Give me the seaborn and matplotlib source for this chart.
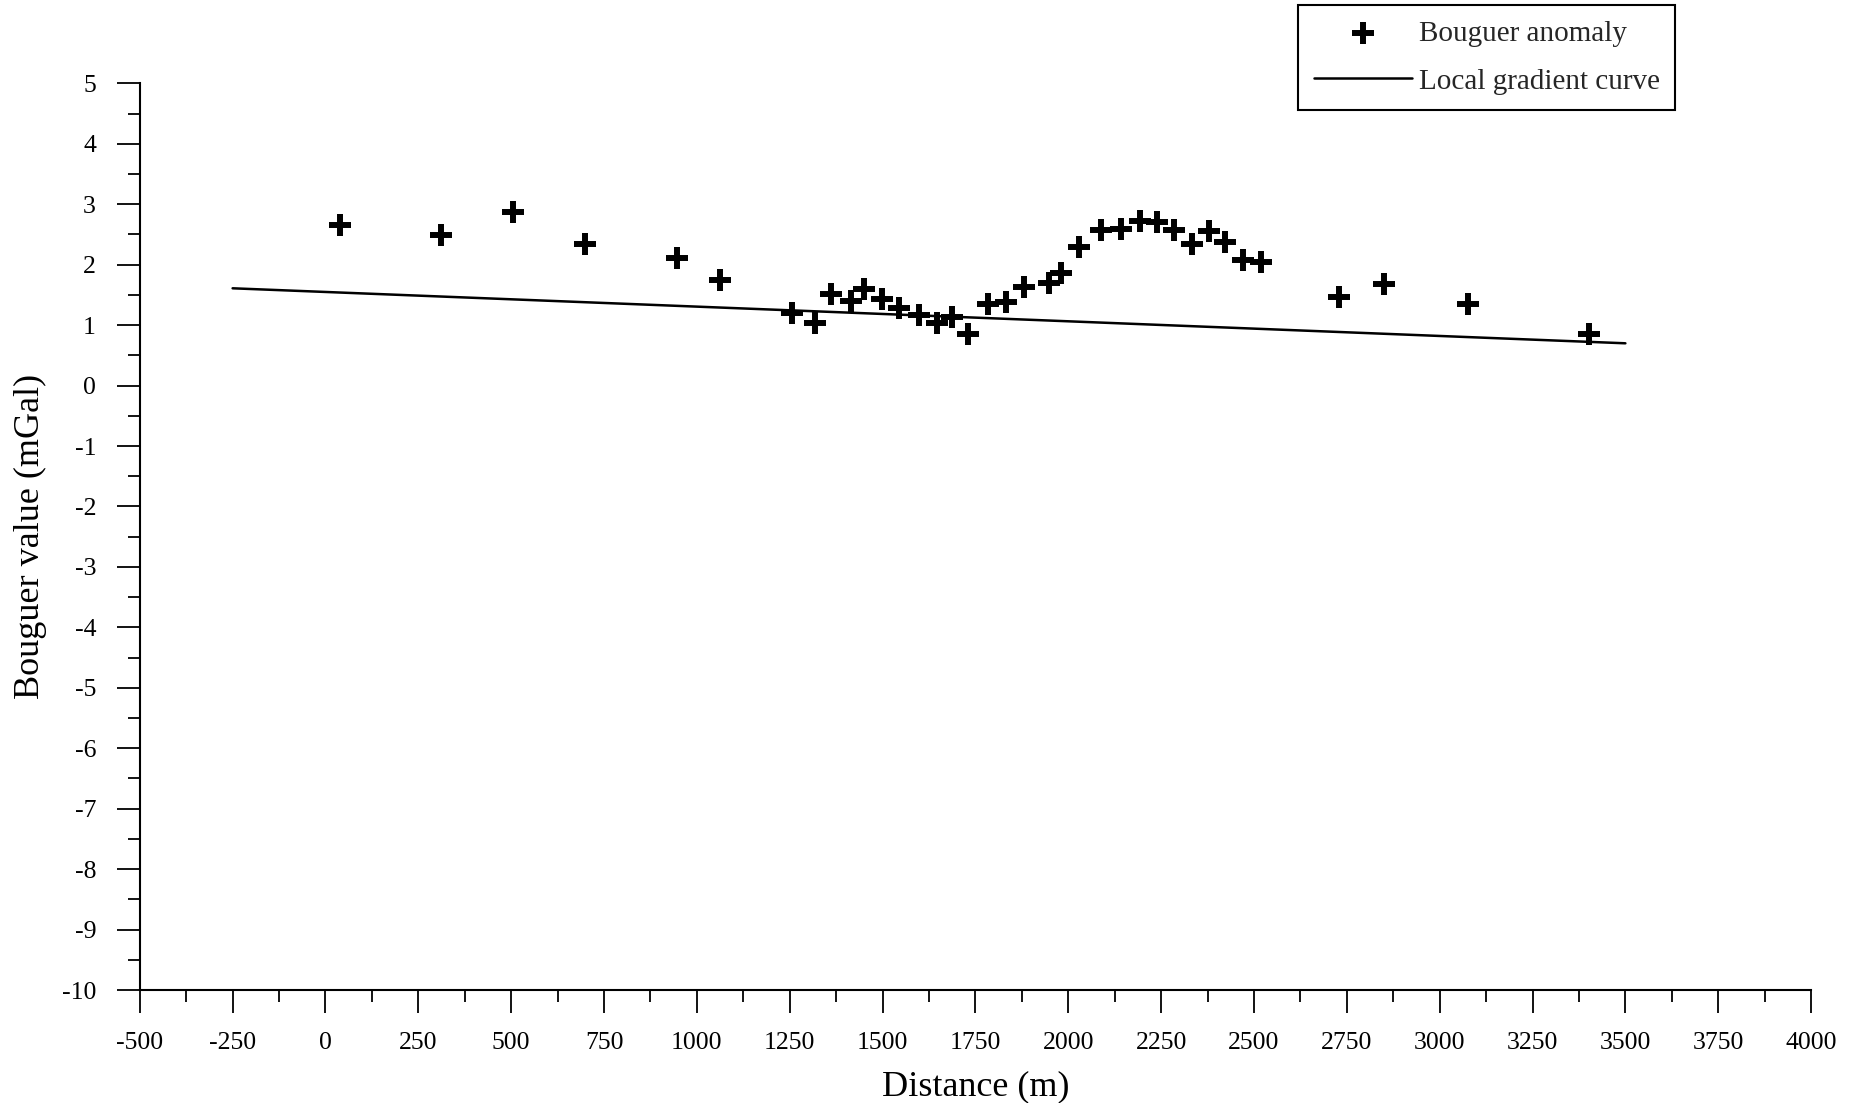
import matplotlib
matplotlib.use("Agg")
import matplotlib.pyplot as plt
from matplotlib.ticker import MultipleLocator
import seaborn as sns
import pandas as pd

# Bouguer anomaly observations
distance_m = [39, 312, 505, 698, 947, 1062, 1256, 1319, 1362, 1414, 1450, 1498,
              1543, 1598, 1646, 1687, 1729, 1785, 1831, 1880, 1948, 1981, 2029,
              2089, 2142, 2192, 2238, 2286, 2333, 2379, 2421, 2470, 2518, 2728,
              2851, 3076, 3403]
bouguer_mgal = [2.66, 2.49, 2.88, 2.34, 2.11, 1.75, 1.20, 1.03, 1.51, 1.40, 1.60,
                1.43, 1.29, 1.16, 1.04, 1.14, 0.85, 1.35, 1.38, 1.63, 1.69, 1.87,
                2.29, 2.57, 2.59, 2.73, 2.70, 2.57, 2.35, 2.56, 2.37, 2.07, 2.05,
                1.46, 1.68, 1.35, 0.86]

# Local gradient curve (regional trend)
trend_distance_m = [-250, 3500]
trend_mgal = [1.61, 0.70]

obs = pd.DataFrame({"Distance": distance_m, "Bouguer": bouguer_mgal})
trend = pd.DataFrame({"Distance": trend_distance_m, "Bouguer": trend_mgal})

sns.set_theme(style="ticks")
plt.rcParams["font.family"] = ["Liberation Serif", "DejaVu Serif"]
plt.rcParams["axes.unicode_minus"] = False

fig = plt.figure(figsize=(18.56, 11.03), dpi=100)
ax = fig.add_axes([0.0753, 0.1024, 0.9005, 0.8220])

sns.scatterplot(data=obs, x="Distance", y="Bouguer", ax=ax, marker="+",
                s=272, color="black", linewidth=4.3, label="Bouguer anomaly",
                zorder=3)
sns.lineplot(data=trend, x="Distance", y="Bouguer", ax=ax, color="black",
             linewidth=1.8, label="Local gradient curve", zorder=2)

ax.set_xlim(-500, 4000)
ax.set_ylim(-10, 5)
ax.xaxis.set_major_locator(MultipleLocator(250))
ax.xaxis.set_minor_locator(MultipleLocator(125))
ax.yaxis.set_major_locator(MultipleLocator(1))
ax.yaxis.set_minor_locator(MultipleLocator(0.5))

for side in ("top", "right"):
    ax.spines[side].set_visible(False)
for side in ("left", "bottom"):
    ax.spines[side].set_linewidth(1.5)
    ax.spines[side].set_color("black")

ax.tick_params(axis="both", which="major", direction="out", length=16.5,
               width=1.3, colors="black", labelsize=18.5)
ax.tick_params(axis="both", which="minor", direction="out", length=8.3,
               width=1.3, colors="black")
ax.tick_params(axis="x", which="major", pad=14)
ax.tick_params(axis="y", which="major", pad=15)

ax.set_xlabel("Distance (m)", fontsize=26, color="black")
ax.set_ylabel("Bouguer value (mGal)", fontsize=26, color="black")
ax.xaxis.set_label_coords(0.5, -0.089)
ax.yaxis.set_label_coords(-0.0555, 0.5)
ax.grid(False)

leg = ax.legend(loc="upper left", bbox_to_anchor=(0.6996, 0.9955),
                bbox_transform=fig.transFigure, borderaxespad=0,
                fontsize=21, frameon=True, fancybox=False, framealpha=1,
                edgecolor="black", borderpad=0.52, labelspacing=0.74,
                handlelength=3.37, handletextpad=0.25)
leg.get_frame().set_linewidth(1.5)

fig.savefig("out.png", dpi=100)
